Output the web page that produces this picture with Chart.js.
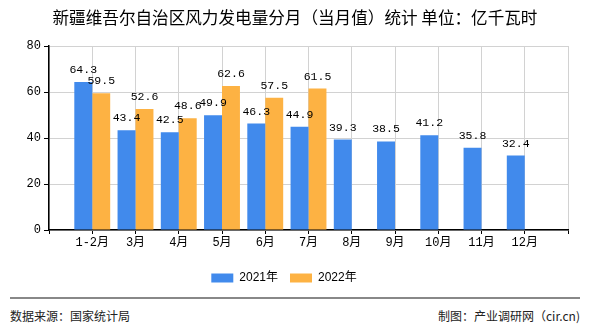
<!DOCTYPE html>
<html>
<head>
<meta charset="utf-8">
<script src="https://cdn.jsdelivr.net/npm/chart.js@4"></script>
<style>
  body { margin: 0; background: #fff; font-family: "Noto Sans CJK SC", sans-serif; }
  #wrap { position: relative; width: 590px; height: 330px; }
  #title { position: absolute; top: 5px; left: 0; width: 590px; text-align: center; font-size: 16.6px; color: #000; }
  #chartBox { position: absolute; top: 0; left: 0; width: 590px; height: 294px; }
  #footLine { position: absolute; top: 297px; left: 10px; width: 570px; height: 0; border-top: 2px solid #888; }
  .foot { position: absolute; top: 307px; font-size: 12px; color: #222; }
</style>
</head>
<body>
<div id="wrap">
  <div id="chartBox"><canvas id="windChart"></canvas></div>
  <div id="title">新疆维吾尔自治区风力发电量分月（当月值）统计 单位：亿千瓦时</div>
  <div id="footLine"></div>
  <div class="foot" style="left:10px">数据来源：国家统计局</div>
  <div class="foot" style="right:10px">制图：产业调研网（cir.cn)</div>
</div>
<script>
const categories = ['1-2月', '3月', '4月', '5月', '6月', '7月', '8月', '9月', '10月', '11月', '12月'];
const values2021 = [64.3, 43.4, 42.5, 49.9, 46.3, 44.9, 39.3, 38.5, 41.2, 35.8, 32.4];
const values2022 = [59.5, 52.6, 48.6, 62.6, 57.5, 61.5];
const yTicks = [0, 20, 40, 60, 80];

// empty slot at each end so the bars sit on the grid lines
const labels = [''].concat(categories, ['']);
function pad(values) {
    const out = [null];
    for (let i = 0; i < categories.length; i++) {
        out.push(i < values.length ? values[i] : null);
    }
    out.push(null);
    return out;
}

// value labels above the bars
const barLabels = {
    id: 'barLabels',
    afterDatasetsDraw(chart) {
        const ctx = chart.ctx;
        ctx.save();
        ctx.font = '11.5px "Liberation Mono", monospace';
        ctx.fillStyle = '#000';
        ctx.textAlign = 'center';
        ctx.textBaseline = 'middle';
        chart.data.datasets.forEach((ds, i) => {
            chart.getDatasetMeta(i).data.forEach((bar, j) => {
                if (ds.data[j] == null) return;
                ctx.fillText(ds.data[j].toFixed(1), bar.x, bar.y - 12);
            });
        });
        ctx.restore();
    }
};

const ctx = document.getElementById('windChart').getContext('2d');
const chart = new Chart(ctx, {
    type: 'bar',
    data: {
        labels: labels,
        datasets: [{
            label: '2021年',
            data: pad(values2021),
            backgroundColor: '#418aec'
        }, {
            label: '2022年',
            data: pad(values2022),
            backgroundColor: '#fdb243'
        }]
    },
    options: {
        responsive: true,
        maintainAspectRatio: false,
        animation: false,
        categoryPercentage: 0.83,
        barPercentage: 1,
        layout: { padding: { top: 46, right: 22, left: 0, bottom: 0 } },
        plugins: {
            legend: {
                position: 'bottom',
                labels: {
                    boxWidth: 22,
                    boxHeight: 9,
                    padding: 12,
                    color: '#000',
                    font: { size: 12, family: '"Liberation Sans", "Noto Sans CJK SC", sans-serif' }
                }
            },
            tooltip: { enabled: false }
        },
        scales: {
            x: {
                offset: false,
                grid: { offset: false, color: '#d2d2d2', tickColor: '#000', tickLength: 4 },
                border: { color: '#000', width: 1.5 },
                ticks: {
                    autoSkip: false, maxRotation: 0, padding: 2, color: '#000',
                    font: { size: 12, family: '"Liberation Mono", "Noto Sans CJK SC", monospace' }
                },
                afterFit(scale) { scale.height = 30; }
            },
            y: {
                min: 0,
                max: 80,
                afterBuildTicks(scale) { scale.ticks = yTicks.map(v => ({ value: v })); },
                grid: { color: '#d2d2d2', tickColor: '#000', tickLength: 5 },
                border: { color: '#000', width: 1.5 },
                ticks: {
                    padding: 3, color: '#000',
                    font: { size: 12, family: '"Liberation Mono", monospace' }
                },
                afterFit(scale) { scale.width = 49; }
            }
        }
    },
    plugins: [barLabels]
});
</script>
</body>
</html>
